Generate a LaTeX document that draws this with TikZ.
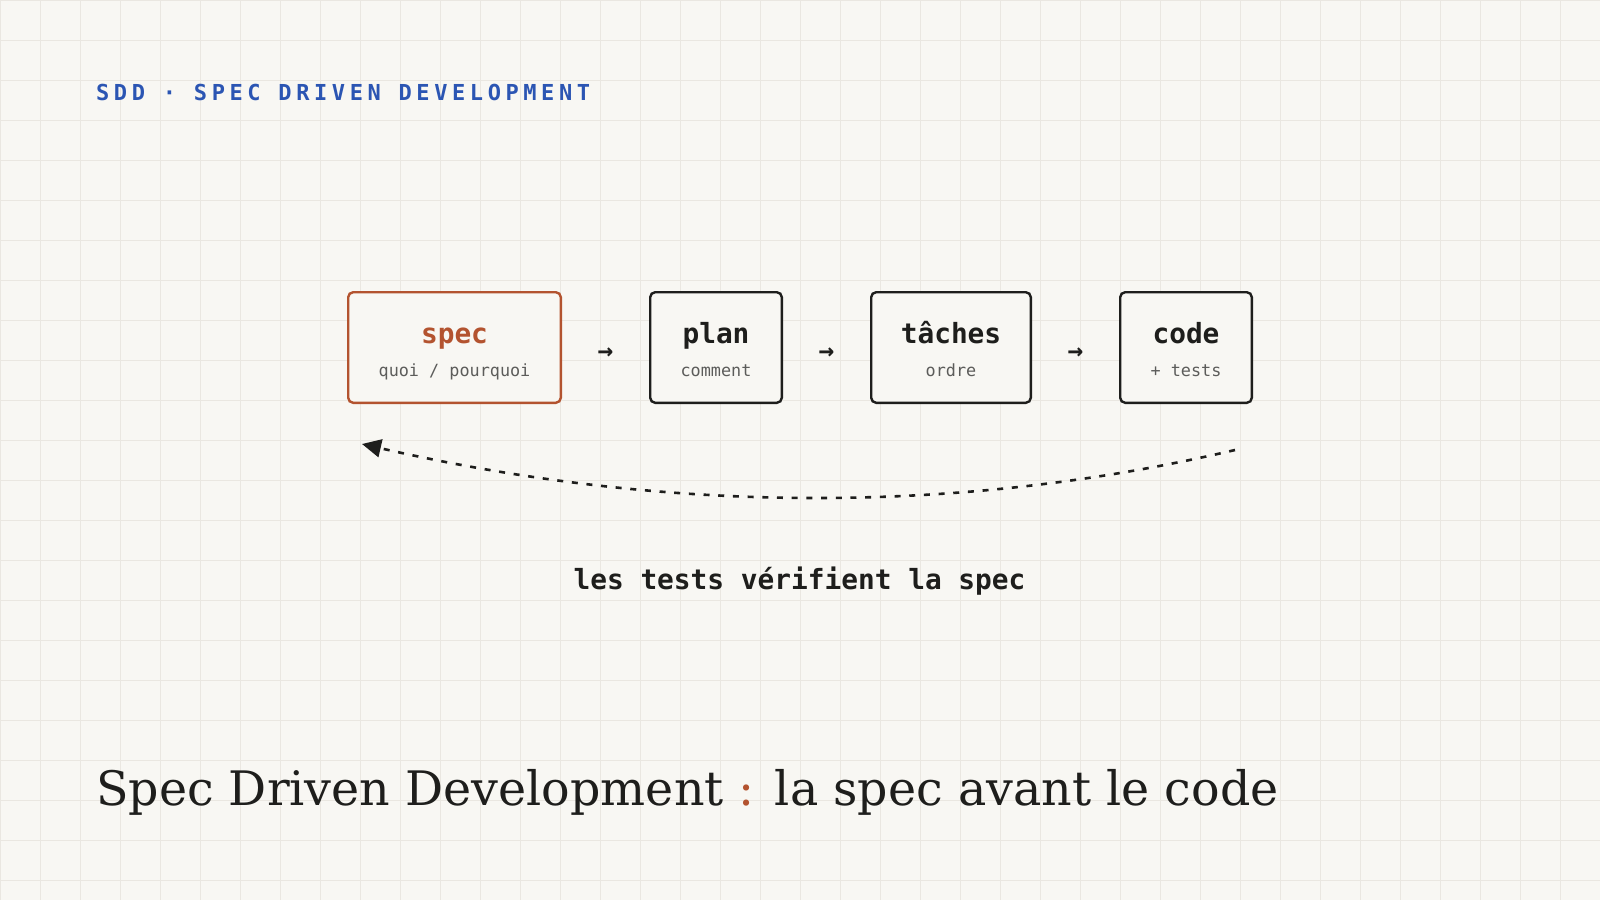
\documentclass[tikz,border=0pt]{standalone}
\usepackage{fontspec}
\setmainfont{DejaVu Serif}
\newfontfamily\monofont{DejaVu Sans Mono}
\newfontfamily\headfont{DejaVu Sans Mono}[LetterSpace=20.8]
\usepackage{tikz}
\usetikzlibrary{positioning,arrows.meta}

\definecolor{paper}{HTML}{F8F7F3}
\definecolor{gridline}{HTML}{EAE7E1}
\definecolor{ink}{HTML}{1E1E1C}
\definecolor{rust}{HTML}{B3532F}
\definecolor{navy}{HTML}{2B55B3}
\definecolor{muted}{HTML}{5C5C5A}

\tikzset{
  box/.style={draw=ink, line width=2.4pt, rounded corners=5pt, fill=paper,
    minimum height=110.6pt, inner sep=0pt},
  boxtitle/.style={anchor=base, inner sep=0pt, text=ink,
    font=\monofont\bfseries\fontsize{27.8}{32}\selectfont},
  boxsub/.style={anchor=base, inner sep=0pt, text=muted,
    font=\monofont\fontsize{16.8}{20}\selectfont},
  flowsign/.style={inner sep=0pt, text=ink,
    font=\monofont\bfseries\fontsize{26}{30}\selectfont},
  feedback/.style={draw=ink, line width=2.6pt, dash pattern={on 6pt off 8.7pt},
    -{Triangle[length=19pt,width=18pt]}},
}

\begin{document}
\begin{tikzpicture}[x=1pt,y=1pt,yscale=-1,xscale=1]
    \useasboundingbox (0,0) rectangle (1600,900);
    %Background and grid
    \fill[paper] (0,0) rectangle (1600,900);
    \draw[gridline, line width=1pt, step=40pt] (0,0) grid (1600,900);
    % Text Node
    \node[anchor=base west, inner sep=0pt, text=navy,
      font=\headfont\bfseries\fontsize{22}{26}\selectfont] (kicker) at (96,100) {SDD · SPEC DRIVEN DEVELOPMENT};
    %Shape: Rectangle
    \node[box, draw=rust, minimum width=212.6pt] (spec) at (454.5,347.5) {};
    \node[box, minimum width=131.6pt, right=87pt of spec] (plan) {};
    \node[box, minimum width=159.6pt, right=87pt of plan] (taches) {};
    \node[box, minimum width=131.6pt, right=87pt of taches] (code) {};
    % Text Node
    \node[boxtitle, text=rust] (spec title) at ([yshift=-4.5pt]spec.center) {spec};
    \node[boxsub] (spec sub) at ([yshift=28.5pt]spec.center) {quoi / pourquoi};
    \node[boxtitle] (plan title) at ([yshift=-4.5pt]plan.center) {plan};
    \node[boxsub] (plan sub) at ([yshift=28.5pt]plan.center) {comment};
    \node[boxtitle] (taches title) at ([yshift=-4.5pt]taches.center) {tâches};
    \node[boxsub] (taches sub) at ([yshift=28.5pt]taches.center) {ordre};
    \node[boxtitle] (code title) at ([yshift=-4.5pt]code.center) {code};
    \node[boxsub] (code sub) at ([yshift=28.5pt]code.center) {+ tests};
    % Arrow signs
    \path (spec.east) -- (plan.west) node[flowsign, midway, yshift=-6pt] (step one) {→};
    \path (plan.east) -- (taches.west) node[flowsign, midway, yshift=-6pt] (step two) {→};
    \path (taches.east) -- (code.west) node[flowsign, midway, yshift=-6pt] (step three) {→};
    %Curve Lines
    \coordinate (loop from) at ([shift={(-18,46)}]code.south east);
    \coordinate (loop to) at ([shift={(15,40)}]spec.south west);
    \draw[feedback] (loop from) .. controls (955.7,515.3) and (664.7,513.3) .. (loop to);
    % Text Node
    \node[boxtitle] (loop label) at (799.5,589) {les tests vérifient la spec};
    % Text Node
    \node[anchor=base west, inner sep=0pt, text=ink,
      font=\fontsize{47.5}{55}\selectfont] (headline) at (96,805) {Spec Driven Development {\color{rust}:} la spec avant le code};
\end{tikzpicture}
\end{document}
